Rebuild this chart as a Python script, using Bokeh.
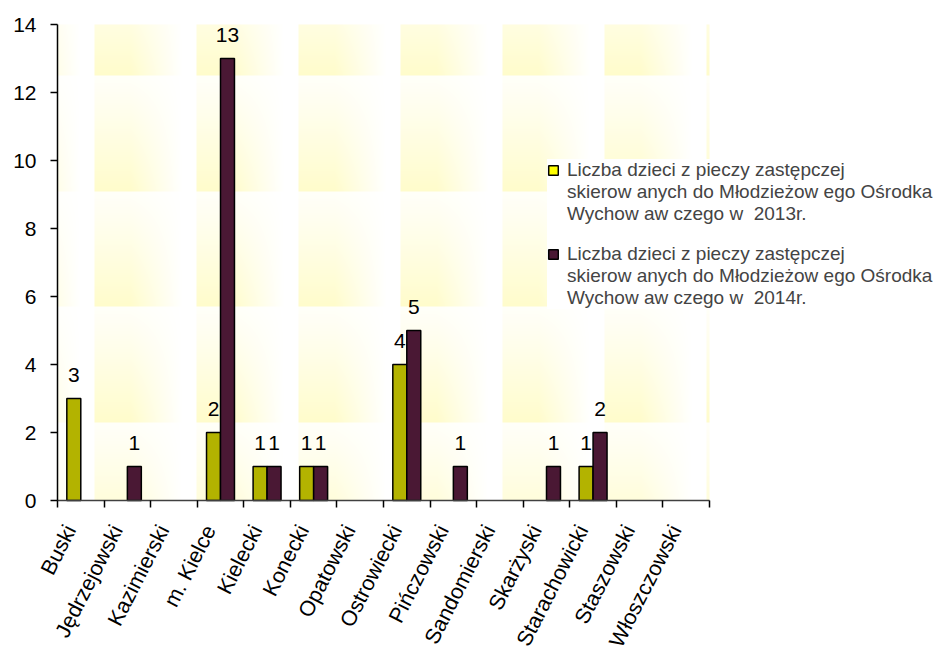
import math
import numpy as np
from bokeh.plotting import figure
from bokeh.models import ColumnDataSource, Range1d, FixedTicker, LabelSet, Legend, LegendItem
from bokeh.core.properties import value
from bokeh.embed import file_html
from bokeh.resources import INLINE

# ---------------- data ----------------
categories = ["Buski", "Jędrzejowski", "Kazimierski", "m. Kielce", "Kielecki", "Konecki",
              "Opatowski", "Ostrowiecki", "Pińczowski", "Sandomierski", "Skarżyski",
              "Starachowicki", "Staszowski", "Włoszczowski"]
values_2013 = [3, 0, 0, 2, 1, 1, 0, 4, 0, 0, 0, 1, 0, 0]
values_2014 = [0, 1, 0, 13, 1, 1, 0, 5, 1, 0, 1, 2, 0, 0]
y_ticks = [0, 2, 4, 6, 8, 10, 12, 14]
y_max = 14
series_lines = [
    ["Liczba dzieci z pieczy zastępczej", "skierow anych do Młodzieżow ego Ośrodka", "Wychow aw czego w  2013r."],
    ["Liczba dzieci z pieczy zastępczej", "skierow anych do Młodzieżow ego Ośrodka", "Wychow aw czego w  2014r."],
]

# ---------------- styling ----------------
FONT = "Liberation Sans"
COL_2013 = "#b3b300"
COL_2014 = "#4a1834"
LEG_2013 = "#ffff00"
LEG_2014 = "#4a1834"
W, H = 945, 656
AXIS_X, AXIS_TOP, AXIS_Y = 57, 24, 500   # canvas px of value axis, top of scale, zero line
PX_PER_UNIT = (AXIS_Y - AXIS_TOP) / y_max
CAT_PX = 652 / 14                        # pixel width of one category
BAR_W = 0.3
LABEL_SHIFT = 0.22                       # category labels sit a little left of the centre

n = len(categories)
centers = np.arange(n) + 0.5
# the frame covers the whole canvas; both axes are pinned at 0 in data space
x_start = -AXIS_X / CAT_PX
x_end = (W - AXIS_X) / CAT_PX
y_start = -(H - AXIS_Y) / PX_PER_UNIT
y_end = y_max + AXIS_TOP / PX_PER_UNIT

p = figure(width=W, height=H,
           x_range=Range1d(x_start, x_end), y_range=Range1d(y_start, y_end),
           output_backend="svg", toolbar_location=None,
           min_border_left=0, min_border_right=0, min_border_top=0, min_border_bottom=0,
           background_fill_color="white", border_fill_color="white", outline_line_color=None)
p.xgrid.visible = False
p.ygrid.visible = False

# ---------------- background texture (tiled pale-yellow gradient) ----------------
TEX_W = int(round(n * CAT_PX))
TEX_H = AXIS_Y - AXIS_TOP
fx = np.arange(TEX_W)
fy = np.arange(TEX_H)
tx = ((fx - 37) % 102) / 102.0
ty = ((fy - 51) % 115.5) / 115.5
hx = np.clip((0.85 - tx) / 0.5, 0, 1)
vy = 0.12 + 0.88 * ty ** 1.1
I = vy[:, None] * hx[None, :]
rgba = np.zeros((TEX_H, TEX_W, 4), dtype=np.uint8)
rgba[..., 0] = 255
rgba[..., 1] = np.round(255 - 3 * I).astype(np.uint8)
rgba[..., 2] = np.round(255 - 52 * I).astype(np.uint8)
rgba[..., 3] = 255
img = rgba[::-1].copy().view(dtype=np.uint32).reshape((TEX_H, TEX_W))
p.image_rgba(image=[img], x=0, y=0, dw=n, dh=y_max)

# ---------------- bars ----------------
def nonzero(xs, vs):
    xs2 = [float(x) for x, v in zip(xs, vs) if v != 0]
    vs2 = [v for v in vs if v != 0]
    return ColumnDataSource(dict(x=xs2, v=vs2, t=[str(v) for v in vs2]))

src13 = nonzero(centers - BAR_W / 2, values_2013)
src14 = nonzero(centers + BAR_W / 2, values_2014)

p.vbar(x="x", top="v", bottom=0, width=BAR_W, source=src13,
       fill_color=COL_2013, line_color="black", line_width=1.5)
p.vbar(x="x", top="v", bottom=0, width=BAR_W, source=src14,
       fill_color=COL_2014, line_color="black", line_width=1.5)

for src in (src13, src14):
    p.add_layout(LabelSet(x="x", y="v", text="t", source=src, text_align="center",
                          text_baseline="alphabetic", y_offset=17,
                          text_font=value(FONT), text_font_size="21px", text_color="black"))

# ---------------- legend ----------------
r13 = p.vbar(x="x", top="v", width=BAR_W, source=src13, fill_color=LEG_2013,
             line_color="black", line_width=1.5, visible=False)
r14 = p.vbar(x="x", top="v", width=BAR_W, source=src14, fill_color=LEG_2014,
             line_color="black", line_width=1.5, visible=False)
r_blank = p.vbar(x="x", top="v", width=BAR_W, source=src13, fill_alpha=0, line_alpha=0,
                 visible=False)
items = []
for k, (lines, r) in enumerate(zip(series_lines, (r13, r14))):
    if k > 0:
        items.append(LegendItem(label=" ", renderers=[r_blank]))
    items.append(LegendItem(label=lines[0], renderers=[r]))
    for ln in lines[1:]:
        items.append(LegendItem(label=ln, renderers=[r_blank]))
legend = Legend(items=items, location=(547, 347), background_fill_color="white",
                background_fill_alpha=1.0, border_line_color=None,
                label_text_font=FONT, label_text_font_size="19px", label_text_line_height=0.95,
                label_height=18, glyph_width=12, glyph_height=12,
                label_standoff=8, padding=11, spacing=0, margin=0,
                inactive_fill_alpha=0.0)
p.add_layout(legend)

# ---------------- axes ----------------
xa = p.xaxis[0]
xa.fixed_location = 0
xa.bounds = (0, n)
xa.ticker = FixedTicker(ticks=[float(c - LABEL_SHIFT) for c in centers],
                        minor_ticks=list(range(n + 1)))
xa.major_label_overrides = {float(c - LABEL_SHIFT): cat for c, cat in zip(centers, categories)}
xa.major_tick_in = 0
xa.major_tick_out = 0
xa.minor_tick_in = 0
xa.minor_tick_out = 7
xa.minor_tick_line_color = "black"
xa.minor_tick_line_width = 1.5
xa.axis_line_color = "#404040"
xa.axis_line_width = 1.5
xa.major_label_orientation = math.radians(63)
xa.major_label_standoff = 19
xa.major_label_text_font = FONT
xa.major_label_text_font_size = "21.5px"
xa.major_label_text_color = "black"

ya = p.yaxis[0]
ya.fixed_location = 0
ya.bounds = (0, y_max)
ya.ticker = FixedTicker(ticks=y_ticks)
ya.major_tick_in = 0
ya.major_tick_out = 7
ya.major_tick_line_color = "black"
ya.major_tick_line_width = 1.5
ya.minor_tick_line_color = None
ya.axis_line_color = "black"
ya.axis_line_width = 1.5
ya.major_label_standoff = 14
ya.major_label_text_font = FONT
ya.major_label_text_font_size = "21px"
ya.major_label_text_color = "black"

open("out.html", "w").write(file_html(p, INLINE))
